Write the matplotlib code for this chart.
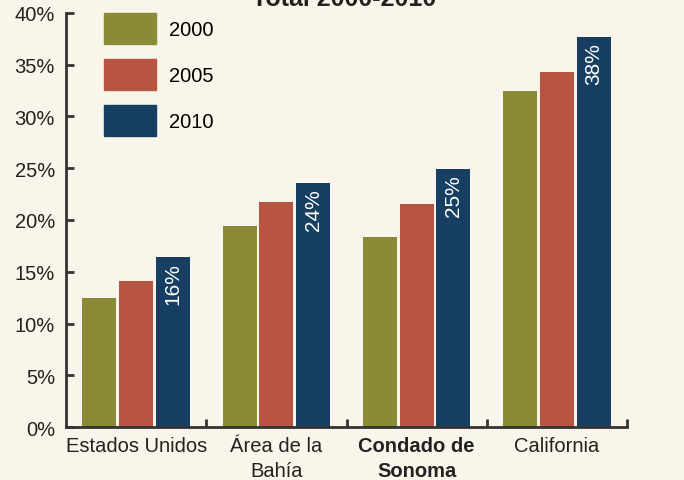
import numpy as np
import matplotlib.pyplot as plt
from matplotlib.patches import Patch

plt.rcParams['font.family'] = ['Liberation Sans', 'DejaVu Sans']

categorias = ['Estados Unidos', 'Área de la\nBahía', 'Condado de\nSonoma', 'California']
anios = ['2000', '2005', '2010']
v2000 = [12.5, 19.4, 18.4, 32.5]
v2005 = [14.1, 21.7, 21.5, 34.3]
v2010 = [16.4, 23.6, 24.9, 37.7]
etiquetas = ['16%', '24%', '25%', '38%']

colores = ['#8b8b37', '#b75442', '#173f62']
fondo = '#f9f5ea'
eje = '#333333'
texto = '#222222'

fig = plt.figure(figsize=(6.84, 4.81), dpi=100, facecolor=fondo)
ax = fig.add_axes([66/684, 1 - 428/481, (627-66)/684, (428-14)/481])
ax.set_facecolor(fondo)

x = np.arange(len(categorias))
w = 0.243
paso = 0.262
for i, vals in enumerate([v2000, v2005, v2010]):
    ax.bar(x + (i - 1) * paso, vals, width=w, color=colores[i])

for xi, v, t in zip(x, v2010, etiquetas):
    ax.text(xi + paso, v - 0.5, t, rotation=90, ha='center', va='top',
            color='white', fontsize=15)

ax.set_xlim(-0.5, 3.5)
ax.set_ylim(0, 40)
ax.set_yticks(range(0, 41, 5))
ax.set_yticklabels([f'{t}%' for t in range(0, 41, 5)], fontsize=14.5, color=texto)
ax.yaxis.set_tick_params(direction='in', length=6, width=2, color=eje, pad=8)

ax.set_xticks(np.arange(0.5, 3.6, 1.0))
ax.set_xticklabels([])
ax.xaxis.set_tick_params(direction='in', length=6, width=2, color=eje)
for xi, c in zip(x, categorias):
    peso = 'bold' if 'Sonoma' in c else 'normal'
    ax.text(xi, -0.9, c, ha='center', va='top', fontsize=14.5,
            fontweight=peso, color=texto, linespacing=1.37)

for s in ['top', 'right']:
    ax.spines[s].set_visible(False)
for s in ['left', 'bottom']:
    ax.spines[s].set_linewidth(2)
    ax.spines[s].set_color(eje)

fig.text(344/684, 1 - 6/481, 'Total 2000-2010', ha='center', va='baseline',
         fontsize=18, fontweight='bold', color=texto)

handles = [Patch(color=c) for c in colores]
fig.legend(handles, anios, loc='upper left', bbox_to_anchor=(104/684, 1 - 14/481),
           frameon=False, fontsize=14.5, handlelength=2.6, handleheight=1.97,
           labelspacing=0.77, borderpad=0, borderaxespad=0, handletextpad=0.62)

fig.savefig('out.png', dpi=100, facecolor=fondo)
